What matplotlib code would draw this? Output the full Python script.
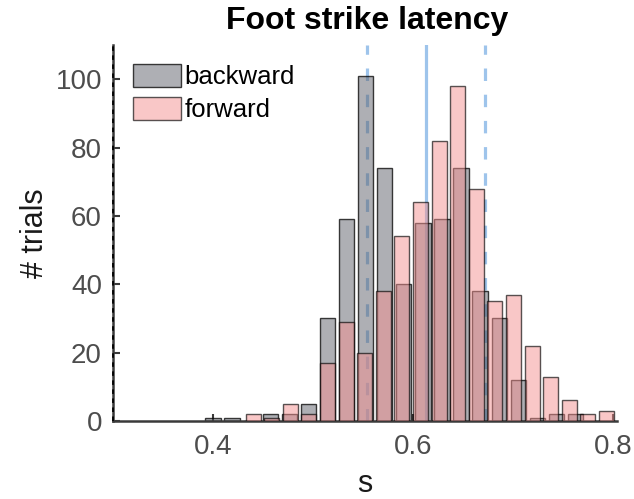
import matplotlib.pyplot as plt
import numpy as np

# histogram bin centres (s) and counts
back_centers = [0.4000, 0.4191, 0.4382, 0.4572, 0.4763, 0.4954, 0.5145, 0.5336,
                0.5526, 0.5717, 0.5908, 0.6099, 0.6290, 0.6480, 0.6671, 0.6862,
                0.7053, 0.7244, 0.7434, 0.7625]
back_counts = [1, 1, 0, 2, 2, 5, 30, 59, 101, 74, 40, 58, 59, 74, 38, 30, 12, 1, 2, 2]

fwd_centers = [0.4401, 0.4587, 0.4773, 0.4959, 0.5145, 0.5331, 0.5517, 0.5703,
               0.5889, 0.6075, 0.6261, 0.6447, 0.6633, 0.6819, 0.7005, 0.7191,
               0.7377, 0.7563, 0.7749, 0.7935]
fwd_counts = [2, 1, 5, 2, 17, 29, 20, 38, 54, 64, 82, 98, 68, 35, 37, 22, 13, 6, 2, 3]

back_width = 0.0153
fwd_width = 0.0149

mean_line = 0.6134
sd_lines = [0.554, 0.672]

plt.rcParams['font.family'] = ['Liberation Sans', 'DejaVu Sans']

fig = plt.figure(figsize=(6.34, 4.99), dpi=100)
ax = fig.add_axes([113/634, 78/499, 504/634, 376/499])

blue = (0.62, 0.77, 0.92)
ax.axvline(mean_line, color=blue, lw=2.3, zorder=1)
for x in sd_lines:
    ax.axvline(x, color=blue, lw=2.3, ls=(0, (3.9, 4.3)), zorder=1)

ax.bar(back_centers, back_counts, width=back_width,
       facecolor=(0.37, 0.38, 0.42, 0.5), edgecolor=(0, 0, 0, 0.75),
       linewidth=1.0, label='backward', zorder=2)
ax.bar(fwd_centers, fwd_counts, width=fwd_width,
       facecolor=(0.96, 0.57, 0.57, 0.5), edgecolor=(0, 0, 0, 0.65),
       linewidth=1.0, label='forward', zorder=3)

ax.set_xlim(0.3, 0.804)
ax.set_ylim(0, 110)
ax.set_xticks([0.4, 0.6, 0.8])
ax.set_xticklabels(['0.4', '0.6', '0.8'])
ax.set_yticks([0, 20, 40, 60, 80, 100])

for s in ['top', 'right']:
    ax.spines[s].set_visible(False)
for s in ['left', 'bottom']:
    ax.spines[s].set_color('#3a3a3a')
    ax.spines[s].set_linewidth(1.8)
# dashed black line sitting on the y axis
ax.axvline(0.3, color='k', lw=1.3, ls=(0, (2.5, 2.5)), zorder=5, clip_on=False)

ax.tick_params(direction='in', length=5, width=1.5, color='#3a3a3a',
               labelsize=20, labelcolor='#4d4d4d')
ax.tick_params(axis='y', pad=8)
ax.tick_params(axis='x', pad=9)

ax.set_ylabel('# trials', fontsize=22, color='#1a1a1a', va='center')
ax.yaxis.set_label_coords(-0.155, 0.5)
ax.set_xlabel('s', fontsize=22, color='#1a1a1a', va='center')
ax.xaxis.set_label_coords(0.5, -0.168)

fig.text(367/634, 1 - 21/499, 'Foot strike latency', fontsize=23,
         fontweight='bold', ha='center', va='center')

ax.legend(loc='upper left', bbox_to_anchor=(0.04, 0.95), frameon=False,
          fontsize=18.5, handlelength=1.85, handleheight=1.0, handletextpad=0.15,
          labelspacing=0.3, borderpad=0, borderaxespad=0)

fig.savefig('out.png', dpi=100)
